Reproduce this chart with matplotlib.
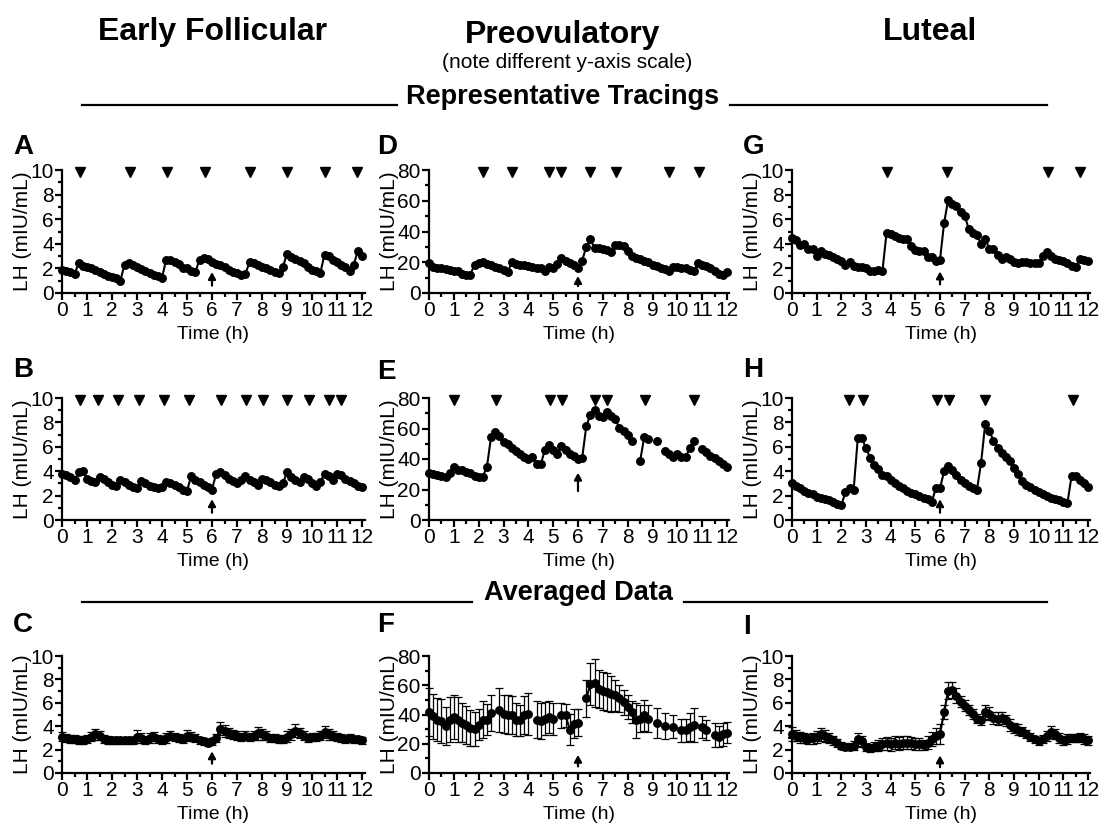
import numpy as np
import matplotlib
matplotlib.use("Agg")
import matplotlib.pyplot as plt
from matplotlib.ticker import MultipleLocator
from matplotlib.lines import Line2D

plt.rcParams['font.family'] = ['Liberation Sans', 'DejaVu Sans']

nan = np.nan
# sampling every 10 minutes, 0..12 h
time_h = np.arange(73) / 6.0

# ---------- Representative tracings (LH, mIU/mL) ----------
lh_A = [1.85, 1.75, 1.7, 1.55, 2.4, 2.2,
        2.15, 2.05, 1.85, 1.7, 1.55, 1.4,
        1.3, 1.2, 1.0, 2.3, 2.4, 2.25,
        2.1, 1.95, 1.8, 1.6, 1.45, 1.4,
        1.25, 2.7, 2.7, 2.5, 2.35, 2.05,
        2.0, 1.75, 1.7, 2.7, 2.85, 2.75,
        2.55, 2.35, 2.25, 2.1, 1.9, 1.7,
        1.6, 1.45, 1.55, 2.5, 2.45, 2.3,
        2.15, 2.0, 1.85, 1.7, 1.6, 2.1,
        3.2, 2.95, 2.8, 2.6, 2.4, 2.1,
        1.9, 1.8, 1.65, 3.1, 3.0, 2.65,
        2.5, 2.3, 2.15, 1.8, 2.3, 3.4,
        3.0]
pulses_A = [0.7, 2.7, 4.2, 5.7, 7.5, 9.0, 10.5, 11.8]

lh_B = [3.8, 3.7, 3.5, 3.3, 3.9, 4.0,
        3.4, 3.2, 3.1, 3.5, 3.4, 3.1,
        2.9, 2.8, 3.3, 3.1, 2.9, 2.7,
        2.6, 3.2, 3.0, 2.8, 2.7, 2.6,
        2.7, 3.1, 3.0, 2.9, 2.7, 2.5,
        2.4, 3.6, 3.3, 3.1, 2.9, 2.7,
        2.5, 3.8, 3.9, 3.7, 3.4, 3.2,
        3.0, 3.3, 3.6, 3.3, 3.1, 2.9,
        3.4, 3.3, 3.1, 2.9, 2.8, 3.0,
        3.9, 3.5, 3.3, 3.1, 3.5, 3.4,
        3.0, 2.8, 3.1, 3.8, 3.6, 3.3,
        3.8, 3.7, 3.4, 3.2, 3.0, 2.8,
        2.7]
pulses_B = [0.73, 1.43, 2.23, 3.07, 4.07, 5.08, 6.36, 7.36, 8.03, 9.0, 9.87, 10.67, 11.16]

lh_D = [19.5, 17, 16.5, 16, 15.5, 15,
        14.5, 14, 12.5, 12, 12, 18.5,
        19.5, 20, 19, 18, 17, 16,
        15, 13.5, 20, 19, 18.5, 18,
        17.5, 17, 16.5, 16, 14.5, 17,
        16.5, 19, 23, 21, 19.5, 18,
        16, 21, 30, 35, 29, 29,
        28.5, 28, 26.5, 31, 31, 30.5,
        27, 24, 23, 22, 21, 20,
        18.5, 17.5, 16.5, 15.5, 14.5, 17,
        17, 16.5, 16, 15, 14, 19.5,
        18.5, 17.5, 16, 14, 12.5, 12,
        13.5]
pulses_D = [2.18, 3.35, 4.85, 5.32, 6.49, 7.52, 9.68, 10.86]

lh_E = [31, 30, 29.5, 29, 28, 30.5,
        35, 33, 33, 31.5, 30.5, 29,
        28.5, 28.5, 35, 54.5, 58, 55,
        51, 50, 47, 45, 43, 41.5,
        40, 41, 36.5, 36.5, 46, 49,
        46, 43.5, 48.5, 46, 43.5, 42,
        40, 40.5, 61.5, 69, 72, 68.5,
        67.5, 71, 68.5, 66, 60.5, 58.5,
        56, 52, nan, 38.5, 54.5, 53,
        nan, 51.5, nan, 45, 43.5, 41.5,
        43.5, 41, 41, 47.5, 52, nan,
        46.5, 44.5, 42, 40.5, 38.5, 36.5,
        35]
pulses_E = [1.02, 2.7, 4.87, 5.34, 6.68, 7.18, 8.7, 10.67]

lh_G = [4.5, 4.3, 3.9, 4.0, 3.6, 3.6,
        3.0, 3.4, 3.2, 3.1, 2.9, 2.8,
        2.6, 2.3, 2.5, 2.2, 2.1, 2.1,
        2.0, 1.8, 1.8, 1.9, 1.8, 4.9,
        4.8, 4.6, 4.5, 4.4, 4.4, 3.8,
        3.5, 3.4, 3.4, 2.9, 2.9, 2.6,
        2.7, 5.7, 7.6, 7.2, 7.1, 6.6,
        6.3, 5.2, 4.9, 4.7, 4.0, 4.4,
        3.6, 3.6, 3.1, 2.8, 2.9, 2.8,
        2.5, 2.4, 2.5, 2.5, 2.4, 2.4,
        2.4, 3.0, 3.3, 3.0, 2.8, 2.7,
        2.6, 2.4, 2.2, 2.1, 2.8, 2.7,
        2.6]
pulses_G = [3.84, 6.3, 10.38, 11.66]

lh_H = [3.0, 2.8, 2.6, 2.4, 2.2, 2.1,
        1.9, 1.8, 1.7, 1.6, 1.5, 1.3,
        1.2, 2.3, 2.6, 2.5, 6.7, 6.7,
        5.9, 5.1, 4.5, 4.2, 3.7, 3.6,
        3.3, 3.0, 2.8, 2.6, 2.4, 2.2,
        2.1, 2.0, 1.8, 1.7, 1.5, 2.6,
        2.6, 4.0, 4.4, 4.1, 3.7, 3.3,
        3.0, 2.8, 2.6, 2.5, 4.7, 7.9,
        7.3, 6.5, 5.9, 5.5, 5.2, 4.8,
        4.3, 3.8, 3.2, 2.9, 2.7, 2.5,
        2.3, 2.1, 2.0, 1.8, 1.7, 1.6,
        1.5, 1.4, 3.6, 3.6, 3.3, 3.0,
        2.7]
pulses_H = [2.33, 2.86, 5.86, 6.35, 7.84, 11.39]

# ---------- Averaged data (mean and SEM) ----------
mean_C = [3.1, 3.0, 2.9, 2.9, 2.8, 2.8,
          2.9, 3.1, 3.3, 3.2, 2.9, 2.8,
          2.8, 2.8, 2.8, 2.8, 2.8, 2.8,
          3.1, 3.0, 2.8, 3.0, 3.1, 2.9,
          2.8, 3.0, 3.2, 3.1, 3.0, 2.9,
          3.2, 3.1, 3.0, 2.8, 2.7, 2.6,
          2.7, 3.0, 3.8, 3.6, 3.4, 3.3,
          3.2, 3.1, 3.2, 3.1, 3.2, 3.4,
          3.3, 3.2, 3.0, 3.0, 2.9, 2.9,
          3.1, 3.3, 3.6, 3.4, 3.2, 3.0,
          3.1, 3.1, 3.2, 3.5, 3.3, 3.2,
          3.1, 3.0, 2.9, 3.0, 2.9, 2.9,
          2.8]
sem_C = [0.4, 0.35, 0.35, 0.35, 0.35, 0.35,
         0.35, 0.4, 0.5, 0.4, 0.35, 0.35,
         0.3, 0.3, 0.3, 0.3, 0.3, 0.3,
         0.55, 0.4, 0.35, 0.4, 0.4, 0.35,
         0.35, 0.4, 0.4, 0.35, 0.35, 0.35,
         0.45, 0.4, 0.35, 0.3, 0.3, 0.3,
         0.3, 0.35, 0.55, 0.5, 0.45, 0.4,
         0.35, 0.35, 0.4, 0.35, 0.4, 0.55,
         0.45, 0.4, 0.35, 0.35, 0.35, 0.35,
         0.45, 0.45, 0.55, 0.45, 0.4, 0.35,
         0.35, 0.35, 0.4, 0.55, 0.45, 0.4,
         0.35, 0.35, 0.35, 0.35, 0.3, 0.3,
         0.3]

mean_F = [41.7, 38.7, 36.5, 35.6, 32.2, 36.5,
          38.3, 36.5, 34.5, 32.7, 31.0, 30.0,
          33.0, 36.5, 36.5, 41.2, nan, 42.8,
          40.5, 39.9, 39.4, 36.5, 36.0, 39.9,
          40.5, nan, 36.5, 35.6, 37.2, 38.3,
          37.2, nan, 39.4, 39.4, 29.7, 33.8,
          34.5, nan, 51.0, 60.8, 61.5, 57.4,
          56.3, 55.2, 54.0, 53.0, 51.0, 48.4,
          45.0, 41.7, 36.0, 37.2, 39.4, 37.2,
          nan, 34.2, nan, 32.0, nan, 31.5,
          nan, 29.3, 29.3, 31.5, 32.7, nan,
          31.5, 29.3, nan, 26.0, 24.8, 26.6,
          27.5]
sem_F = [16.3, 15.2, 14.6, 15.0, 12.8, 15.2,
         15.2, 15.2, 13.5, 13.0, 12.4, 11.6,
         10.7, 12.4, 10.7, 12.4, nan, 15.0,
         13.0, 13.5, 13.0, 11.3, 10.7, 13.0,
         14.2, nan, 12.4, 12.4, 11.3, 10.7,
         10.9, nan, 8.4, 7.9, 10.7, 10.1,
         9.5, nan, 12.6, 14.6, 16.6, 13.0,
         13.0, 13.0, 12.4, 10.7, 9.5, 8.5,
         8.0, 7.5, 11.8, 9.5, 10.7, 9.0,
         nan, 10.1, nan, 9.0, nan, 7.9,
         nan, 7.9, 7.9, 9.5, 11.5, nan,
         7.3, 6.8, nan, 7.9, 7.3, 7.9,
         7.3]

mean_I = [3.35, 3.2, 3.05, 3.0, 2.9, 2.95,
          3.05, 3.3, 3.15, 3.0, 2.8, 2.55,
          2.35, 2.25, 2.25, 2.35, 2.9, 2.7,
          2.25, 2.15, 2.25, 2.35, 2.45, 2.55,
          2.45, 2.6, 2.5, 2.6, 2.6, 2.55,
          2.45, 2.5, 2.4, 2.6, 2.9, 3.15,
          3.35, 5.2, 7.05, 7.1, 6.6, 6.1,
          5.75, 5.4, 5.05, 4.65, 4.5, 5.2,
          5.05, 4.7, 4.65, 4.7, 4.5, 4.1,
          3.85, 3.7, 3.55, 3.3, 3.05, 2.9,
          2.7, 2.9, 3.15, 3.5, 3.35, 3.0,
          2.8, 2.9, 3.0, 3.0, 3.05, 2.9,
          2.8]
sem_I = [0.6, 0.5, 0.45, 0.45, 0.45, 0.45,
         0.5, 0.55, 0.5, 0.45, 0.4, 0.35,
         0.3, 0.3, 0.3, 0.35, 0.55, 0.5,
         0.35, 0.35, 0.4, 0.5, 0.5, 0.55,
         0.55, 0.55, 0.55, 0.55, 0.55, 0.5,
         0.5, 0.5, 0.45, 0.55, 0.6, 0.7,
         0.85, 0.6, 0.7, 0.7, 0.65, 0.5,
         0.45, 0.45, 0.4, 0.4, 0.4, 0.6,
         0.55, 0.5, 0.55, 0.55, 0.5, 0.5,
         0.45, 0.45, 0.4, 0.35, 0.35, 0.3,
         0.3, 0.35, 0.4, 0.5, 0.45, 0.4,
         0.4, 0.4, 0.35, 0.35, 0.4, 0.4,
         0.4]

col_titles = ["Early Follicular", "Preovulatory", "Luteal"]
note_text = "(note different y-axis scale)"
section_titles = ["Representative Tracings", "Averaged Data"]
y_label = "LH (mIU/mL)"
x_label = "Time (h)"
x_ticks = list(range(13))

W, H = 1100, 823
fig = plt.figure(figsize=(W / 100, H / 100), dpi=100)

cols = [(62, 362), (429, 727), (792, 1088)]
rows = [(170, 293), (398, 520), (656, 773)]


def make_ax(c, r):
    x0, x12 = cols[c]
    yt, yb = rows[r]
    w = (x12 - x0) * (12.1 / 12.0)
    return fig.add_axes([x0 / W, 1 - yb / H, w / W, (yb - yt) / H])


def style(ax, ymax):
    major = 2 if ymax == 10 else 20
    minor = 1 if ymax == 10 else 10
    ax.set_xlim(0, 12.1)
    ax.set_ylim(0, ymax)
    for s in ['top', 'right']:
        ax.spines[s].set_visible(False)
    for s in ['left', 'bottom']:
        ax.spines[s].set_linewidth(1.6)
    ax.set_xticks(x_ticks)
    ax.set_xticklabels([str(t) for t in x_ticks])
    ax.xaxis.set_minor_locator(MultipleLocator(0.5))
    ax.yaxis.set_major_locator(MultipleLocator(major))
    ax.yaxis.set_minor_locator(MultipleLocator(minor))
    ax.tick_params(which='major', direction='out', length=5, width=1.6,
                   labelsize=15, pad=1)
    ax.tick_params(which='minor', direction='out', length=3, width=1.6)
    ax.set_ylabel(y_label, fontsize=15, labelpad=-1)
    ax.set_xlabel(x_label, fontsize=14, labelpad=4)


def arrow(ax, base, tip):
    ax.annotate('', xy=(6, tip), xytext=(6, base),
                arrowprops=dict(arrowstyle='-|>,head_width=0.22,head_length=0.4',
                                lw=1.6, color='black', shrinkA=0, shrinkB=0))


tracings = [
    (0, 0, lh_A, pulses_A, 10, (0.6, 1.7)),
    (0, 1, lh_B, pulses_B, 10, (0.6, 1.7)),
    (1, 0, lh_D, pulses_D, 80, (4.5, 11)),
    (1, 1, lh_E, pulses_E, 80, (19, 31)),
    (2, 0, lh_G, pulses_G, 10, (0.7, 1.75)),
    (2, 1, lh_H, pulses_H, 10, (0.6, 1.7)),
]
for c, r, vals, pulses, ymax, (ab, at) in tracings:
    ax = make_ax(c, r)
    style(ax, ymax)
    ax.plot(time_h, vals, '-o', color='black', lw=1.5, ms=5.4, clip_on=False)
    ax.plot(pulses, [ymax * 0.98] * len(pulses), 'v', color='black', ms=7,
            clip_on=False, linestyle='none')
    arrow(ax, ab, at)

averaged = [
    (0, mean_C, sem_C, 10, (0.8, 1.85)),
    (1, mean_F, sem_F, 80, (4.5, 12.4)),
    (2, mean_I, sem_I, 10, (0.5, 1.5)),
]
for c, m, s, ymax, (ab, at) in averaged:
    ax = make_ax(c, 2)
    style(ax, ymax)
    ax.errorbar(time_h, m, yerr=s, fmt='-o', color='black', lw=1.5, ms=5.4,
                elinewidth=0.9, capsize=3, capthick=0.9, clip_on=False)
    arrow(ax, ab, at)

# panel letters
letters = [("A", 13, 147), ("D", 377, 147), ("G", 743, 147),
           ("B", 13, 370), ("E", 377, 372), ("H", 743, 370),
           ("C", 13, 625), ("F", 377, 625), ("I", 743, 627)]
for t, x, y in letters:
    fig.text(x / W, 1 - y / H, t, fontsize=20, fontweight='bold',
             ha='left', va='center')

# column titles
fig.text(213 / W, 1 - 32 / H, col_titles[0], fontsize=23, fontweight='bold',
         ha='center', va='center')
fig.text(563 / W, 1 - 35 / H, col_titles[1], fontsize=23, fontweight='bold',
         ha='center', va='center')
fig.text(567 / W, 1 - 62 / H, note_text, fontsize=15, ha='center', va='center')
fig.text(930 / W, 1 - 32 / H, col_titles[2], fontsize=23, fontweight='bold',
         ha='center', va='center')

# section headers with rules
sections = [(section_titles[0], 563, 97, 105, 82, 397, 730, 1047),
            (section_titles[1], 578, 593, 602, 82, 472, 684, 1047)]
for txt, cx, cy, ly, l0, l1, r0, r1 in sections:
    fig.text(cx / W, 1 - cy / H, txt, fontsize=19.5, fontweight='bold',
             ha='center', va='center')
    for a, b in [(l0, l1), (r0, r1)]:
        fig.add_artist(Line2D([a / W, b / W], [1 - ly / H, 1 - ly / H],
                              color='black', lw=1.6))

fig.savefig("out.png", dpi=100)
